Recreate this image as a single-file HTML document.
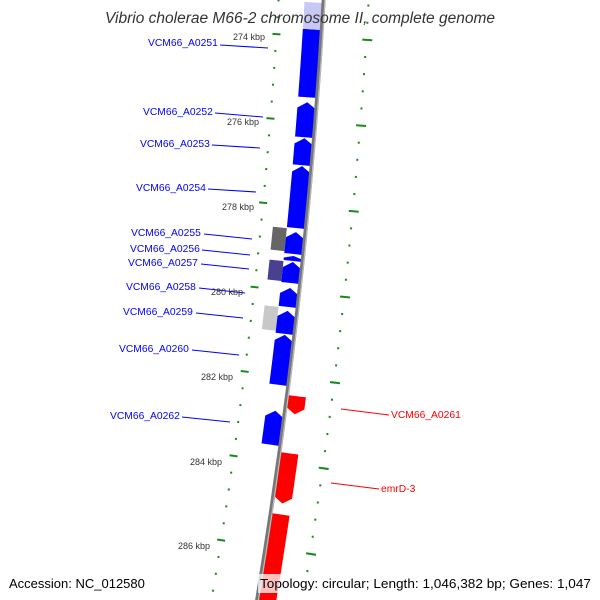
<!DOCTYPE html>
<html><head><meta charset="utf-8"><style>
html,body{margin:0;padding:0;background:#fff;width:600px;height:600px;overflow:hidden;}
svg{display:block;font-family:"Liberation Sans",sans-serif;}
</style></head><body>
<svg id="s" width="600" height="600" viewBox="0 0 600 600" xmlns="http://www.w3.org/2000/svg">
<rect width="600" height="600" fill="#fff"/>
<g id="g"></g>
<circle cx="-5367" cy="-327" r="5700" fill="none" stroke="#777" stroke-width="4"/>
<circle cx="-5367" cy="-327" r="5701.3" fill="none" stroke="#bbb" stroke-width="1.2"/>
<g stroke-width="1">
<line x1="220" y1="45" x2="268" y2="48" stroke="#00f"/>
<line x1="215" y1="113" x2="263" y2="117" stroke="#00f"/>
<line x1="212" y1="145" x2="260" y2="148" stroke="#00f"/>
<line x1="208" y1="189" x2="256" y2="192" stroke="#00f"/>
<line x1="204" y1="234" x2="252" y2="239" stroke="#00f"/>
<line x1="202" y1="250" x2="250" y2="255" stroke="#00f"/>
<line x1="201" y1="264" x2="249" y2="269" stroke="#00f"/>
<line x1="199" y1="288" x2="245" y2="293" stroke="#00f"/>
<line x1="196" y1="313" x2="243" y2="318" stroke="#00f"/>
<line x1="192" y1="350" x2="239" y2="355" stroke="#00f"/>
<line x1="182" y1="417" x2="230" y2="422" stroke="#00f"/>
<line x1="341" y1="409" x2="389" y2="415" stroke="#f00"/>
<line x1="331" y1="483" x2="379" y2="489" stroke="#f00"/>
</g>
<g font-size="10.3" fill="#00f">
<text x="148" y="46">VCM66_A0251</text>
<text x="143" y="115">VCM66_A0252</text>
<text x="140" y="147">VCM66_A0253</text>
<text x="136" y="191">VCM66_A0254</text>
<text x="131" y="236">VCM66_A0255</text>
<text x="130" y="252">VCM66_A0256</text>
<text x="128" y="266">VCM66_A0257</text>
<text x="126" y="290">VCM66_A0258</text>
<text x="123" y="315">VCM66_A0259</text>
<text x="119" y="352">VCM66_A0260</text>
<text x="110" y="419">VCM66_A0262</text>
</g>
<g font-size="10.3" fill="#f00">
<text x="391" y="418">VCM66_A0261</text>
<text x="381" y="492">emrD-3</text>
</g>
<g font-size="9" fill="#333" text-anchor="end">
<text x="265" y="40">274 kbp</text>
<text x="259" y="125">276 kbp</text>
<text x="254" y="210">278 kbp</text>
<text x="243" y="295">280 kbp</text>
<text x="233" y="380">282 kbp</text>
<text x="222" y="465">284 kbp</text>
<text x="210" y="549">286 kbp</text>
</g>
<text x="300" y="23" font-size="15.5" font-style="italic" fill="#333" text-anchor="middle">Vibrio cholerae M66-2 chromosome II, complete genome</text>
<text x="9" y="588" font-size="13" fill="#000">Accession: NC_012580</text>
<rect x="258" y="574" width="338" height="19" fill="#fff" fill-opacity="0.75"/>
<text x="260" y="588" font-size="13" fill="#000" textLength="331" lengthAdjust="spacingAndGlyphs">Topology: circular; Length: 1,046,382 bp; Genes: 1,047</text>
</svg>
<script>
(function(){
var cx=-5367,cy=-327,R=5700,g=document.getElementById('g'),NS='http://www.w3.org/2000/svg';
function P(y,o){var s=(y-cy)/R;if(s>1)s=1;var c=Math.sqrt(1-s*s);return [(cx+(R+o)*c).toFixed(2),(cy+(R+o)*s).toFixed(2)];}
function poly(pts,fill){var e=document.createElementNS(NS,'polygon');e.setAttribute('points',pts.map(function(p){return P(p[0],p[1]).join(',');}).join(' '));e.setAttribute('fill',fill);g.insertBefore(e,g.firstChild);}
function box(y1,y2,o1,o2,fill){var pts=[],i,n=8;for(i=0;i<=n;i++)pts.push([y1+(y2-y1)*i/n,o1]);for(i=n;i>=0;i--)pts.push([y1+(y2-y1)*i/n,o2]);poly(pts,fill);}
function up(y1,y2,fill){var h=Math.min(6,(y2-y1)/2),pts=[[y1,-9.5]],i,n=8;
 pts.push([y1+h,-1]);for(i=0;i<=n;i++)pts.push([y1+h+(y2-y1-h)*i/n,-1]);for(i=n;i>=0;i--)pts.push([y1+h+(y2-y1-h)*i/n,-19]);poly(pts,fill);
 box(y1+h,y2,-5,-2,'#4a4aff');}
function down(y1,y2,fill){var h=Math.min(6,(y2-y1)/2),pts=[],i,n=8;
 for(i=0;i<=n;i++)pts.push([y1+(y2-y1-h)*i/n,1]);pts.push([y2,10]);for(i=n;i>=0;i--)pts.push([y1+(y2-y1-h)*i/n,19]);poly(pts,fill);
 box(y1,y2-h,15,18,'#ff6a6a');}
for(var k=0;k<=36;k++){var kb=273.2+k*0.4,y=37+(kb-274)*42.5,maj=(Math.abs(((kb-274)/2)-Math.round((kb-274)/2))<0.01);
 if(maj){box(y-1,y+1,-49,-41,'#1a8a1a');box(y-1,y+1,41,51,'#1a8a1a');}
 else{box(y-1,y+1,-46,-44,'#1a8a1a');box(y-1,y+1,44,46,'#1a8a1a');}}
box(3,30,-19,-1,'#c8c8f4');
poly([[3,-9.5],[9,-1],[9,-19]],'#0000ff');
box(30,98,-19,-1,'#0000ff');
up(103,138,'#0000ff');up(139,166,'#0000ff');up(167,229,'#0000ff');
up(233,255,'#0000ff');up(257,262,'#0000ff');up(263,284,'#0000ff');
up(289,308,'#0000ff');up(312,335,'#0000ff');up(336,386,'#0000ff');up(412,446,'#0000ff');
box(230,253,-33,-19,'#666');box(263,283,-33,-19,'#4a4090');box(309,333,-33,-19,'#c8c8c8');
down(395,413,'#ff0000');down(452,502,'#ff0000');box(513,600,1,19,'#ff0000');
})();
</script>
</body></html>
